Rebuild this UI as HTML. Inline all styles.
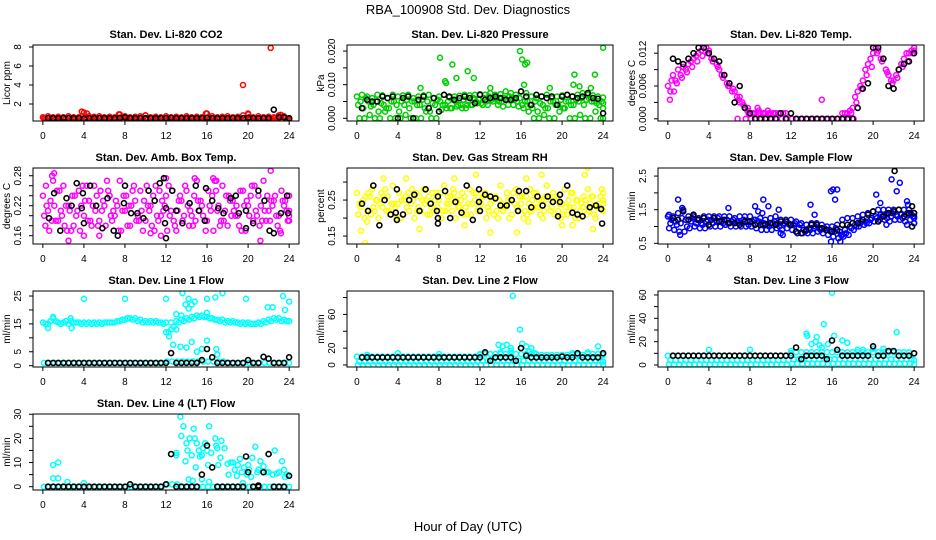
<!DOCTYPE html>
<html><head><meta charset="utf-8"><title>RBA_100908 Std. Dev. Diagnostics</title>
<style>
html,body{margin:0;padding:0;background:#fff;}
svg{display:block;font-family:"Liberation Sans",Arial,sans-serif;}
</style></head>
<body>
<svg id="chart" width="936" height="540" viewBox="0 0 936 540" xmlns="http://www.w3.org/2000/svg">
<rect width="936" height="540" fill="#fff"/>
<text x="468" y="14" font-size="13" text-anchor="middle">RBA_100908  Std. Dev. Diagnostics</text>
<text x="468" y="531" font-size="13" text-anchor="middle">Hour of Day (UTC)</text>
<g id="panels"></g>
</svg>
<script>
// ---------- data ----------
const xTicks = [0,4,8,12,16,20,24];

// P1 CO2
const co2A = [0.6,0.7,0.6,0.65,0.6,0.7,0.6,0.6,1.1,0.7,0.65,0.7,0.6,0.65,0.6,0.9,0.7,0.6,0.65,0.7,0.8,0.6,0.65,0.6,0.7,0.6,0.65,0.6,0.7,0.6,0.65,0.6,1.0,0.7,0.6,0.65,0.7,0.6,0.65,0.8,0.9,0.6,0.7,0.6,0.65,0.6,0.8,0.7,0.5];
const co2B = [0.4,0.35,0.4,0.35,0.4,0.35,0.4,0.35,0.4,0.35,0.4,0.35,0.4,0.35,0.4,0.35,0.4,0.35,0.4,0.35,0.4,0.35,0.4,0.35,0.4,0.35,0.4,0.35,0.4,0.35,0.4,0.35,0.4,0.35,0.4,0.35,0.4,0.35,0.4,0.35,0.4,0.35,0.4,0.35,0.4,0.35,0.4,0.35,0.3];
const co2C = [0.5,0.55,0.5,0.45,0.5,0.55,0.5,0.5,0.6,0.5,0.5,0.55,0.5,0.45,0.5,0.55,0.5,0.5,0.5,0.55,0.5,0.5,0.45,0.5,0.55,0.5,0.5,0.5,0.55,0.5,0.5,0.5,0.6,0.5,0.5,0.45,0.5,0.55,0.5,0.5,0.6,0.5,0.5,0.55,0.5,0.5,0.6,0.5,0.45];
const co2OutX = [3.8,4.3,7.4,10,15.9,19.5,20,22.2,23.2];
const co2OutY = [1.2,1.0,0.9,0.8,1.0,4.0,1.0,7.9,0.85];
const co2Black = [0.5,0.5,0.5,0.55,0.5,0.5,0.5,0.45,0.5,0.5,0.5,0.5,0.5,0.5,0.55,0.6,0.5,0.5,0.5,0.5,0.5,0.5,0.5,0.5,0.55,0.5,0.5,0.5,0.5,0.5,0.5,0.55,0.5,0.5,0.5,0.5,0.5,0.5,0.5,0.55,0.5,0.5,0.5,0.5,1.4,0.6,0.6,0.5];

// P2 Pressure
const prA = [0.0065,0.007,0.0065,0.006,0.007,0.0068,0.006,0.007,0.0065,0.0068,0.007,0.006,0.0065,0.0068,0.007,0.006,0.0065,0.007,0.0062,0.0065,0.0067,0.007,0.0068,0.007,0.0072,0.007,0.0075,0.007,0.0072,0.008,0.0075,0.007,0.008,0.0075,0.0065,0.006,0.0065,0.007,0.006,0.0065,0.0068,0.007,0.0065,0.007,0.0075,0.007,0.0068,0.0065,0.0062];
const prB = [0.004,0.003,0.005,0.004,0.002,0.004,0.003,0.005,0.002,0.004,0.003,0.005,0.004,0.003,0.002,0.004,0.005,0.004,0.003,0.005,0.004,0.003,0.004,0.005,0.0045,0.005,0.0055,0.006,0.005,0.0055,0.006,0.005,0.004,0.005,0.003,0.002,0.004,0.003,0.005,0.004,0.003,0.005,0.004,0.005,0.004,0.006,0.005,0.004,0.003];
const prC = [0,0,0.001,0,0,0.002,0,0,0,0.001,0,0,0,0.002,0,0,0.0025,0.003,0.003,0.0035,0.003,0.004,0.004,0.0045,0.004,0.004,0.005,0.004,0.0035,0.004,0.004,0.0035,0.003,0.002,0,0,0.001,0,0,0.002,0.003,0,0,0.001,0,0,0.002,0,0];
const prD = [0.005,0.006,0.0035,0.005,0.0045,0.003,0.005,0.004,0.005,0.0055,0.005,0.004,0.0055,0.005,0.0045,0.0055,0.004,0.005,0.0055,0.004,0.0055,0.005,0.006,0.0055,0.006,0.0065,0.006,0.005,0.006,0.0065,0.0055,0.006,0.005,0.004,0.005,0.0045,0.003,0.005,0.004,0.0055,0.005,0.004,0.0055,0.006,0.0055,0.005,0.0045,0.005,0.0045];
const prOutX = [6.2,8.1,8.6,8.7,9.3,9.7,10.8,11.4,13,15.9,16.1,16.4,16.6,16.3,18.8,21.2,21.1,21.7,22.8,23.2,24];
const prOutY = [0.009,0.018,0.011,0.0105,0.016,0.012,0.014,0.012,0.009,0.020,0.0175,0.016,0.0165,0.010,0.009,0.013,0.010,0.0095,0.009,0.013,0.021];
const prBlack = [0.003,0.0055,0.005,0.005,0.0065,0.006,0.0065,0,0.006,0.0065,0,0.0055,0.0065,0.003,0.006,0.002,0.007,0.0065,0.0055,0.006,0.0065,0.006,0.0045,0.007,0.0055,0.006,0.0065,0.006,0.0055,0.0055,0.006,0.008,0.0065,0.004,0.007,0.0065,0.006,0.0065,0.004,0.0065,0.007,0.0065,0.006,0.0065,0.0075,0.006,0.0058,0.0015];

// P3 Li-820 Temp
const tmA = [0.006,0.008,0.009,0.0095,0.010,0.011,0.012,0.013,0.0125,0.011,0.009,0.008,0.006,0.005,0.004,0.002,0.001,0.001,0.001,0.001,0.001,0.001,0.001,0.001,null,null,null,null,null,null,null,null,null,null,0.001,0.001,0.002,0.005,0.007,0.010,0.012,0.0125,0.011,0.008,0.007,0.009,0.011,0.012,0.013];
const tmB = [0.005,0.007,0.008,0.009,0.0105,0.0115,0.0125,0.013,0.011,0.010,0.008,0.0065,0.005,0.004,0.003,0.0015,0.001,0.002,0.001,0.0015,0.001,0.001,0.001,null,null,null,null,null,null,null,null,null,null,null,0.001,0.0015,0.004,0.006,0.009,0.011,0.013,0.011,0.009,0.007,0.008,0.010,0.012,0.0125,null];
const tmZ = [null,null,null,null,null,null,null,null,null,null,null,null,null,null,null,0,0,0,0,0,0,0,0,0,0,0,0,0,0,0,0,0,0,0,0,0,0,null,null,null,null,null,null,null,null,null,null,null,null];
const tmD = [0.007,0.0065,0.0075,0.0085,0.0095,0.0105,0.0115,0.012,0.0105,0.0095,0.0075,0.006,0.0055,0.0035,0.0025,0.001,0.001,0.0015,0.001,0.001,0.001,0.001,null,null,null,null,null,null,null,null,null,null,null,null,null,0.001,0.003,0.0055,0.008,0.0095,0.012,0.0105,0.0085,0.0065,0.0075,0.0095,0.0105,0.012,0.0125];
const tmOutX = [0.2,0.6,6.8,15,7,7.8];
const tmOutY = [0.0035,0.005,0,0.0035,0.003,0.002];
const tmBlack = [0.011,0.0105,0.010,0.011,0.012,0.013,0.013,0.012,0.011,0.0105,0.008,0.0065,0.003,0.006,0.002,0.001,0,0,0,0,0,0.001,0,0.001,0,0,0,0,0,0,0,0,0,0,0,0,0.002,0.0055,0.0065,0.013,0.013,0.011,0.006,0.0055,0.009,0.010,0.0105,0.012];

// P4 Amb. Box Temp
const amA = [.24,.21,.27,.19,.26,.22,.18,.25,.20,.23,.26,.19,.22,.24,.20,.27,.21,.18,.23,.25,.19,.22,.26,.20,.24,.21,.17,.23,.25,.20,.27,.22,.19,.24,.21,.26,.18,.23,.20,.25,.22,.19,.24,.27,.21,.23,.20,.22,.24];
const amB = [.20,.17,.22,.25,.18,.21,.24,.17,.23,.19,.21,.25,.18,.20,.23,.17,.24,.22,.19,.21,.26,.18,.20,.23,.17,.25,.21,.19,.22,.18,.23,.20,.25,.17,.22,.19,.24,.21,.18,.22,.20,.26,.18,.21,.19,.24,.17,.23,.20];
const amC = [.18,.23,.19,.21,.22,.17,.20,.22,.26,.18,.24,.21,.27,.19,.22,.21,.18,.25,.20,.17,.22,.24,.19,.21,.26,.19,.23,.20,.18,.24,.21,.19,.22,.27,.18,.21,.23,.20,.25,.17,.24,.21,.22,.19,.23,.20,.25,.21,.19];
const amD = [.22,.19,.25,.20,.17,.24,.21,.26,.19,.22,.18,.23,.25,.21,.17,.24,.22,.26,.19,.23,.21,.17,.25,.22,.20,.18,.24,.26,.21,.19,.23,.17,.21,.25,.19,.24,.20,.22,.17,.23,.26,.20,.19,.24,.22,.18,.23,.19,.21];
const amOutX = [0.9,1.1,2.5,4,5.5,10.5,11.5,12,14.8,16.6,16.9,21.2,22.2,23.2,0.3];
const amOutY = [0.28,0.285,0.15,0.16,0.16,0.165,0.16,0.275,0.275,0.275,0.27,0.15,0.29,0.165,0.26];
const amBX = [0.6,1.1,1.7,2.3,2.8,3.3,3.8,3.9,4,4.6,5.2,5.8,6.3,6.9,7.3,7.9,8,8.6,9.2,9.8,10.3,10.9,11.4,11.8,11.9,12,12,12.6,13,13.6,14.3,14.9,15.2,15.8,15.9,16.5,17.1,17.6,18.3,18.8,19.1,19.8,19.8,20.5,21,21.6,22.1,22.5,23.2,23.8,23.9];
const amBY = [0.195,0.245,0.17,0.235,0.22,0.265,0.215,0.245,0.185,0.26,0.22,0.175,0.235,0.17,0.16,0.225,0.26,0.205,0.205,0.195,0.25,0.23,0.265,0.275,0.185,0.215,0.155,0.25,0.21,0.185,0.225,0.26,0.21,0.19,0.255,0.23,0.215,0.205,0.235,0.24,0.205,0.21,0.175,0.185,0.25,0.23,0.17,0.165,0.205,0.24,0.205];

// P5 Gas Stream RH
const rhA = [.27,.24,.22,.28,.25,.23,.26,.29,.24,.21,.27,.25,.23,.28,.26,.22,.25,.29,.24,.27,.23,.26,.28,.25,.22,.27,.24,.26,.29,.23,.25,.28,.24,.26,.22,.27,.25,.29,.23,.26,.24,.21,.27,.25,.23,.28,.26,.24,.27];
const rhB = [.21,.25,.27,.23,.20,.26,.22,.24,.27,.25,.22,.20,.26,.24,.21,.25,.27,.22,.26,.20,.25,.23,.21,.27,.24,.20,.26,.22,.24,.27,.21,.23,.26,.21,.25,.23,.20,.24,.27,.22,.21,.25,.23,.20,.26,.22,.21,.23,.25];
const rhC = [.24,.20,.26,.22,.24,.28,.21,.23,.20,.26,.24,.27,.22,.25,.23,.27,.20,.24,.22,.25,.27,.21,.24,.22,.26,.23,.25,.20,.22,.25,.27,.22,.20,.24,.27,.25,.22,.26,.21,.24,.28,.23,.20,.22,.25,.24,.20,.26,.22];
const rhD = [.23,.26,.21,.25,.27,.22,.24,.20,.25,.23,.28,.22,.25,.21,.27,.23,.22,.26,.28,.23,.21,.24,.27,.23,.26,.22,.21,.25,.23,.20,.24,.26,.22,.28,.23,.21,.26,.22,.25,.20,.23,.27,.25,.24,.21,.26,.23,.28,.24];
const rhOutX = [0.4,0.8,1.0,2.6,4.8,6.1,9.5,11.6,13,15.6,16.5,18,22.2,22.5,23,21,20,16.7,10.5];
const rhOutY = [0.165,0.13,0.19,0.31,0.31,0.17,0.31,0.32,0.16,0.16,0.31,0.32,0.32,0.34,0.17,0.18,0.18,0.19,0.18];
const rhBX = [0.5,1.1,1.6,2.2,2.7,3.3,3.8,3.9,3.9,4.5,5.1,5.6,6.1,6.7,7.2,7.8,7.9,7.9,7.9,8.6,9.1,9.6,10.2,10.7,11.3,11.9,11.9,12,12.5,13,13.5,14,14.6,15.1,15.7,15.8,16.5,17,17.6,18.1,18.6,19.1,19.6,19.8,19.8,20.5,21,21.5,22,22.7,23.3,23.8,23.9];
const rhBY = [0.24,0.22,0.29,0.18,0.25,0.21,0.215,0.28,0.195,0.21,0.25,0.265,0.22,0.28,0.24,0.22,0.185,0.2,0.26,0.275,0.2,0.245,0.215,0.29,0.195,0.28,0.245,0.22,0.265,0.26,0.255,0.235,0.235,0.25,0.22,0.275,0.275,0.23,0.26,0.235,0.26,0.245,0.205,0.265,0.245,0.29,0.215,0.21,0.205,0.23,0.235,0.225,0.185];

// P6 Sample Flow
const sfA = [1.3,1.3,1.4,1.5,1.3,1.3,1.25,1.3,1.3,1.3,1.3,1.3,1.3,1.25,1.3,1.3,1.3,1.2,1.25,1.2,1.25,1.3,1.2,1.2,1.2,1.15,1.1,1.05,1.1,1.1,1.05,1.0,1.0,1.05,1.2,1.25,1.25,1.3,1.35,1.4,1.45,1.5,1.5,1.5,1.5,1.5,1.5,1.5,1.4];
const sfB = [0.95,0.9,0.85,0.85,0.95,1.0,0.95,0.95,1.0,1.0,1.0,1.05,1.0,1.0,1.0,1.0,1.0,0.95,0.9,0.9,0.9,0.95,0.9,0.95,0.9,0.8,0.8,0.8,0.8,0.85,0.8,0.75,0.7,0.65,0.7,0.75,0.9,1.0,1.05,1.1,1.15,1.2,1.2,1.15,1.2,1.2,1.15,1.2,1.1];
const sfC = [1.1,1.15,1.1,1.2,1.15,1.1,1.1,1.15,1.2,1.15,1.15,1.2,1.15,1.15,1.1,1.15,1.15,1.1,1.05,1.05,1.1,1.1,1.05,1.1,1.05,0.95,0.9,0.95,0.95,0.95,0.95,0.9,0.85,0.85,0.9,1.0,1.05,1.1,1.15,1.2,1.3,1.35,1.35,1.3,1.35,1.35,1.35,1.35,1.25];
const sfD = [1.2,1.05,1.25,1.0,1.25,1.2,1.05,1.2,1.1,1.25,1.1,1.1,1.2,1.1,1.2,1.05,1.2,1.15,1.1,1.0,1.15,1.0,1.1,1.05,1.1,1.05,0.85,0.9,1.0,0.9,0.9,0.85,0.95,0.75,0.8,0.95,1.0,1.15,1.1,1.25,1.25,1.3,1.25,1.4,1.3,1.25,1.4,1.3,1.3];
const sfOutX = [0.1,1.0,1.2,1.4,5.9,8.5,8.8,9.3,9.2,9.8,10.8,11,11.2,13.9,14.3,15.9,15.9,16.3,16.5,16.1,16.8,17,20.3,20.7,21.3,21.8,22.3,22.6,23.3,23.3,24,23.4];
const sfOutY = [1.35,1.8,0.75,1.55,1.55,1.6,1.45,1.8,1.4,1.6,1.5,0.8,0.75,1.65,1.35,0.55,2.05,1.8,2.1,2.1,0.55,0.75,1.95,1.7,1.05,2.4,2.05,2.3,1.75,1.05,1.1,1.65];
const sfBlack = [1.25,1.2,1.45,1.2,1.35,1.2,1.25,1.05,1.25,1.15,1.2,1.1,1.1,1.05,1.15,1.15,1.05,1.05,1.05,1.1,1.05,1.15,1.15,1.05,0.85,0.8,0.9,1.05,1.05,0.95,0.9,0.85,0.9,1.05,1.05,1.1,1.1,1.2,1.35,1.45,1.15,1.3,1.4,1.45,1.5,1.3,1.4,1.4];
const sfBXo = [22.1,23.8,23.8];
const sfBYo = [2.65,1.6,1.0];

// P7 Line 1 Flow
const l1A = [15.5,15,17,15.5,15.5,15,15.5,15.5,15.5,15.5,15.5,15.5,15.5,15.5,15.5,16,16.5,17,17,16.5,16,16,16,15.5,15.5,15.5,16,16.5,17,17.5,18,18,17.5,17,16.5,16.5,16,16,15.5,15.5,15.5,15,15.5,16,16.5,17,17,16.5,16];
const l1B = [15,16,16,15,16,16,15.5,15,15,15,15,15,15.5,15.5,16,16.5,17,16.5,16,15.5,15.5,15.5,15.5,15,12,14,15.5,16,16.5,17,17.5,17.5,17,16.5,16,15.5,15.5,15.5,15,15,15,15,15,15.5,16,16.5,16,16,16];
const l1Z = [1,1,1,1,1,1,1,1,1,1,1,1,1,1,1,1,1,1,1,1,1,1,1,1,1.5,1.5,1.5,1.5,1.5,1.5,1.5,1.5,1.5,1.5,1.5,1.5,1,1,1,1,1,1,1,1,1,1,1,1,1];
const l1OutX = [4,8,12,13.6,13.9,14.2,14.5,14.8,16,16.8,17.5,19.8,21.9,22.4,23.4,23.6,24,13,13.5,14.2,12,12.3,12.5,12.7,13.4,14,14.5,15,15.5,16,16.9,17,13,0.5,2.8,16,1,2.7];
const l1OutY = [24,24,24,26,22,24,22,23,24,24.5,26,24,21,21,25,20,23,18.5,18,20.5,12,10.5,13,7.5,6.8,6.5,8.5,5,6,9,6,4,13,13.5,13.5,19,17.5,17];
const l1Black = [1,1,1,1,1,1,1,1,1,1,1,1,1,1,1,1,1,1,1,1,1,1,1,1,4.5,1,1,1,1,1,2,6,3,1,1,1,1,1,1,2,1,1,3.2,2.5,1,1,1,3];

// P8 Line 2 Flow
const l2A = [10,10,10,10,10,10,10,10,10,10,10,10,10,10,10,10,10,10,10,10,10,10,10,10,12,13,13,13,13,13,13,13,13,13,13,13,12,12,12,12,12,12,12,12,12,13,13,13,12];
const l2Y = [4,4,4,4,4,4,4,4,4,4,4,4,4,4,4,4,4,4,4,4,4,4,4,4,5,5,5,5,5,5,5,5,5,5,5,5,5,5,5,5,5,5,5,5,5,5,5,5,4];
const l2Z = [0,0,0,0,0,0,0,0,0,0,0,0,0,0,0,0,0,0,0,0,0,0,0,0,0,0,0,0,0,0,0,0,0,0,0,0,0,0,0,0,0,0,0,0,0,0,0,0,0];
const l2OutX = [1,4,8,12,13,13.8,14.2,14.6,15,15.2,15.9,16.1,16.5,17,23.5,22.5,21,14,15,16.8,17.3];
const l2OutY = [12,14,13,13,13,24,22,24,20,82,42,25,22,20,22,15,14,15,17,16,14];
const l2Black = [9,9,9,9,9,9,9,9,9,9,9,9,9,9,9,9,9,9,9,9,9,9,9,9,15,5,9,9,9,9,5,20,11,9,9,9,9,9,9,10,9,9,14,9,9,9,9,14];

// P9 Line 3 Flow
const l3A = [8,8,8,8,8,8,8,8,8,8,8,8,8,8,8,8,8,8,8,8,8,8,8,8,10,11,11,11,11,11,11,11,11,11,11,11,11,11,11,11,11,11,11,11,11,11,11,11,10];
const l3Y = [4,4,4,4,4,4,4,4,4,4,4,4,4,4,4,4,4,4,4,4,4,4,4,4,5,5,5,5,5,5,5,5,5,5,5,5,5,5,5,5,5,5,5,5,5,5,5,5,4];
const l3Z = [0.5,0.5,0.5,0.5,0.5,0.5,0.5,0.5,0.5,0.5,0.5,0.5,0.5,0.5,0.5,0.5,0.5,0.5,0.5,0.5,0.5,0.5,0.5,0.5,1,1,1,1,1,1,1,1,1,1,1,1,1,1,1,1,1,1,1,1,1,1,1,1,0.5];
const l3OutX = [4,8,12,13.5,13.6,14.5,15.2,16,16.2,17,17.5,22.3,14,14.8,15,18.5,19,20,21,14.4,15.6];
const l3OutY = [13,13,12,27,25,24,35,62,25,21,19,28,18,17,15,13,13,14,14,20,18];
const l3Black = [8,8,8,8,8,8,8,8,8,8,8,8,8,8,8,8,8,8,8,8,8,8,8,8,15,5,8,8,8,8,5,21,13,8,8,8,8,8,8,16,8,8,12,12,8,8,8,10];

// P10 Line 4 (LT) Flow
const l4Z = [0,0,0,0,0,0,0,0,0,0,0,0,0,0,0,0,0,0,0,0,0,0,0,0,1,1,1,0,0,0,0,0,0,0,0,0,0,0,0,0,0,0,0,0,0,0,0,0,0];
const l4OutX = [13,13,13.4,13.5,13.7,13.9,14,14.1,14.3,14.5,14.7,14.8,14.9,15,15.2,15.3,15.5,15.6,15.8,16,16.1,16.2,16.4,16.8,16.9,17,17.1,17.3,17.4,17.7,18,18.1,18.3,18.5,18.7,18.9,19,19.2,19.4,19.6,19.9,20,20.1,20.4,20.7,20.9,21,21.2,21.5,21.8,22,22.4,22.6,22.8,23,23.3,23.5,23.6,23.8,1,1.5,1,1.5,2.4,4,14.2,14.6,15.5,16.2,19.5,20.3];
const l4OutY = [13,14,29,21,25,10.5,18,15,20,13,24,20,8,18,15,12.5,13,16,18,15,9,25,14,20,17,16,9,12,19,16,9.5,5,10,10,7,4.5,9,11.5,6,8,5,9,7,12,16.5,6,7,10.5,8.5,6,6,5,15,5.5,6,10.5,7,4,5,9,10,3.5,3.5,2,1.5,3,2.5,3,2,1.5,4];
const l4Black = [0,0,0,0,0,0,0,0,0,0,0,0,0,0,0,0,1,0,0,0,0,0,0,1,13.5,0,0,0,0,0,5,17,8,0,0,0,0,0,0,6,0,0,6,13.5,0,0,0,4.5];
const l4BXo = [19.8,21];
const l4BYo = [12.5,0.5];

// ---------- layout ----------
const colLeft = [33,347,658];
const rowTop = [45,168,291,414];
const PW = 266, PH = 76;

const panels = [
 {title:"Stan. Dev. Li-820 CO2", ylab:"Licor ppm", col:0,row:0, y0:0.21,y1:8.21, ticks:[2,4,6,8], labels:["2","4","6","8"], color:"#ff0000",
  series:[co2A,co2B,co2C], offs:[0,0.25,0.12], ox:co2OutX, oy:co2OutY, black:co2Black},
 {title:"Stan. Dev. Li-820 Pressure", ylab:"kPa", col:1,row:0, y0:-0.0008,y1:0.0218, ticks:[0,0.005,0.01,0.015,0.02], labels:["0.000","","0.010","","0.020"], color:"#00cd00",
  series:[prA,prB,prC,prD], offs:[0,0.12,0.25,0.37], ox:prOutX, oy:prOutY, black:prBlack},
 {title:"Stan. Dev. Li-820 Temp.", ylab:"degrees C", col:2,row:0, y0:-0.0004,y1:0.0135, ticks:[0,0.003,0.006,0.009,0.012], labels:["0.000","","0.006","","0.012"], color:"#ff00ff",
  series:[tmA,tmB,tmZ,tmD], offs:[0,0.25,0.1,0.37], ox:tmOutX, oy:tmOutY, black:tmBlack},
 {title:"Stan. Dev. Amb. Box Temp.", ylab:"degrees C", col:0,row:1, y0:0.1434,y1:0.2955, ticks:[0.16,0.18,0.20,0.22,0.24,0.26,0.28], labels:["0.16","","","0.22","","","0.28"], color:"#ff00ff",
  series:[amA,amB,amC,amD], offs:[0,0.12,0.25,0.37], ox:amOutX, oy:amOutY, black:amBY, blackX:amBX},
 {title:"Stan. Dev. Gas Stream RH", ylab:"percent", col:1,row:1, y0:0.128,y1:0.339, ticks:[0.15,0.20,0.25,0.30], labels:["0.15","","0.25",""], color:"#ffff00",
  series:[rhA,rhB,rhC,rhD], offs:[0,0.12,0.25,0.37], ox:rhOutX, oy:rhOutY, black:rhBY, blackX:rhBX},
 {title:"Stan. Dev. Sample Flow", ylab:"ml/min", col:2,row:1, y0:0.48,y1:2.74, ticks:[0.5,1,1.5,2,2.5], labels:["0.5","","1.5","","2.5"], color:"#0000ff",
  series:[sfA,sfB,sfC,sfD], offs:[0,0.12,0.25,0.37], ox:sfOutX, oy:sfOutY, black:sfBlack, bxo:sfBXo, byo:sfBYo},
 {title:"Stan. Dev. Line 1 Flow", ylab:"ml/min", col:0,row:2, y0:-0.47,y1:26.8, ticks:[0,5,10,15,20,25], labels:["0","5","","15","","25"], color:"#00ffff",
  series:[l1A,l1B,l1Z], offs:[0,0.25,0.1], ox:l1OutX, oy:l1OutY, black:l1Black},
 {title:"Stan. Dev. Line 2 Flow", ylab:"ml/min", col:1,row:2, y0:-2.4,y1:87.8, ticks:[0,20,40,60,80], labels:["0","20","","60",""], color:"#00ffff",
  series:[l2A,l2Y,l2Z], offs:[0,0.25,0.1], ox:l2OutX, oy:l2OutY, black:l2Black},
 {title:"Stan. Dev. Line 3 Flow", ylab:"ml/min", col:2,row:2, y0:-1.7,y1:63.4, ticks:[0,10,20,30,40,50,60], labels:["0","","20","","40","","60"], color:"#00ffff",
  series:[l3A,l3Y,l3Z], offs:[0,0.25,0.1], ox:l3OutX, oy:l3OutY, black:l3Black},
 {title:"Stan. Dev. Line 4 (LT) Flow", ylab:"ml/min", col:0,row:3, y0:-1.37,y1:30.1, ticks:[0,5,10,15,20,25,30], labels:["0","","10","","20","","30"], color:"#00ffff",
  series:[l4Z], offs:[0.1], ox:l4OutX, oy:l4OutY, black:l4Black, bxo:l4BXo, byo:l4BYo}
];

const NS = "http://www.w3.org/2000/svg";
const root = document.getElementById('panels');
function mk(tag, attrs, parent){
  const e = document.createElementNS(NS, tag);
  for (const k in attrs) e.setAttribute(k, attrs[k]);
  parent.appendChild(e);
  return e;
}
const X0 = -0.96, X1 = 24.96;

panels.forEach((p, pi) => {
  const L = colLeft[p.col], T = rowTop[p.row], B = T + PH, R = L + PW;
  const xs = t => L + (t - X0) / (X1 - X0) * PW;
  const ys = v => B - (v - p.y0) / (p.y1 - p.y0) * PH;
  const g = mk('g', {}, root);
  
  

  const cp = mk('clipPath', {id: 'clip' + pi}, g);
  mk('rect', {x: L, y: T, width: PW, height: PH}, cp);

  const title = mk('text', {x: (L + R) / 2, y: T - 7, 'font-size': 11, 'font-weight': 'bold', 'text-anchor': 'middle'}, g);
  title.textContent = p.title;
  
  

  const xa = mk('g', {stroke: '#000', 'stroke-width': 1}, g);
  
  
  mk('line', {x1: xs(xTicks[0]), x2: xs(xTicks[xTicks.length - 1]), y1: B, y2: B}, xa);
  xTicks.forEach(t => {
    mk('line', {x1: xs(t), x2: xs(t), y1: B, y2: B + 4}, xa);
    const tl = mk('text', {x: xs(t), y: B + 18, 'font-size': 10, 'text-anchor': 'middle', stroke: 'none'}, g);
    tl.textContent = String(t);
    
    
  });

  const ya = mk('g', {stroke: '#000', 'stroke-width': 1}, g);
  
  
  mk('line', {x1: L, x2: L, y1: ys(p.ticks[0]), y2: ys(p.ticks[p.ticks.length - 1])}, ya);
  p.ticks.forEach((v, i) => {
    mk('line', {x1: L - 4, x2: L, y1: ys(v), y2: ys(v)}, ya);
    if (p.labels[i]) {
      const yl = mk('text', {x: L - 12, y: ys(v), 'font-size': 10, 'text-anchor': 'middle', transform: `rotate(-90 ${L - 12} ${ys(v)})`}, g);
      yl.textContent = p.labels[i];
      
      
    }
  });
  const yt = mk('text', {x: L - 23, y: (T + B) / 2, 'font-size': 10, 'text-anchor': 'middle', transform: `rotate(-90 ${L - 23} ${(T + B) / 2})`}, g);
  yt.textContent = p.ylab;
  
  

  const mg = mk('g', {'clip-path': `url(#clip${pi})`, fill: 'none'}, g);
  
  
  const dot = (t, v, col, sw) => {
    if (v === null || v === undefined) return;
    const c = mk('circle', {cx: xs(t).toFixed(1), cy: ys(v).toFixed(1), r: 2.5, stroke: col, 'stroke-width': sw}, mg);
    
    
  };
  p.series.forEach((arr, si) => {
    const n = arr.length;
    arr.forEach((v, i) => dot(Math.min(24, i * 24 / (n - 1) + p.offs[si]), v, p.color, 1.5));
  });
  p.ox.forEach((t, i) => dot(t, p.oy[i], p.color, 1.5));
  if (p.blackX) {
    p.blackX.forEach((t, i) => dot(t, p.black[i], '#000', 1.6));
  } else {
    const n = p.black.length;
    p.black.forEach((v, i) => dot((i + 1) * 24 / n, v, '#000', 1.6));
  }
  if (p.bxo) p.bxo.forEach((t, i) => dot(t, p.byo[i], '#000', 1.6));

  const box = mk('rect', {x: L, y: T, width: PW, height: PH, fill: 'none', stroke: '#000', 'stroke-width': 1}, g);
  
  
});
</script>
</body></html>
